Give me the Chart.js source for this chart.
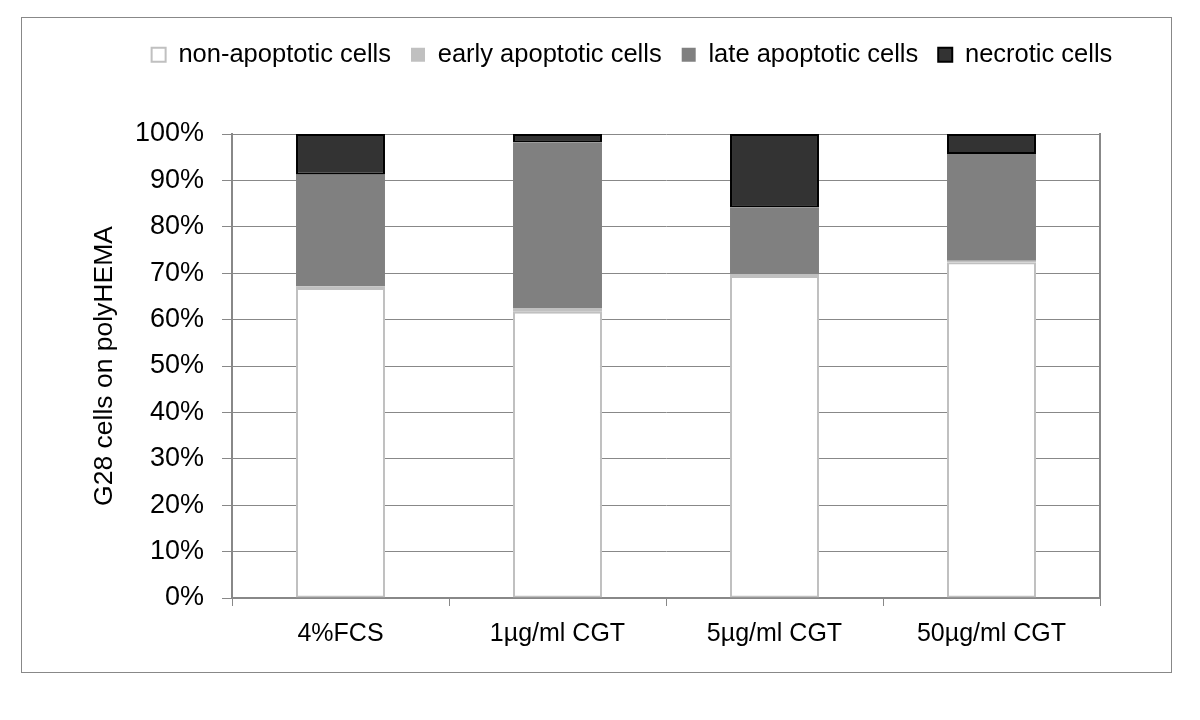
<!DOCTYPE html>
<html lang="en">
<head>
<meta charset="UTF-8">
<title>G28 cells on polyHEMA</title>
<script src="https://cdn.jsdelivr.net/npm/chart.js"></script>
<style>
    body {
        margin: 0;
        background: #fff;
        font-family: "Liberation Sans", Arial, sans-serif;
    }
    #frame {
        position: absolute;
        left: 21px;
        top: 17px;
        width: 1149px;
        height: 654px;
        border: 1px solid #888;
    }
</style>
</head>
<body>

<div id="frame">
    <canvas id="cellChart"></canvas>
</div>

<script>
// values (percent of cells)
const categories = ['4%FCS', '1µg/ml CGT', '5µg/ml CGT', '50µg/ml CGT'];
const seriesNames = ['non-apoptotic cells', 'early apoptotic cells', 'late apoptotic cells', 'necrotic cells'];
const nonApoptotic = [66.8, 61.7, 69.4, 72.3];
const earlyApoptotic = [0.4, 0.8, 0.3, 0.4];
const lateApoptotic = [24.0, 35.7, 14.5, 23.0];
const necrotic = [8.8, 1.8, 15.8, 4.3];
const yTickValues = [0, 10, 20, 30, 40, 50, 60, 70, 80, 90, 100];

Chart.defaults.font.family = '"Liberation Sans", Arial, sans-serif';
Chart.defaults.color = '#000';

// push the plot area down below the legend
const legendSpacer = {
    id: 'legendSpacer',
    afterInit(chart) {
        const fit = chart.legend.fit;
        chart.legend.fit = function () {
            fit.call(this);
            this.height = 112;
        };
    }
};

const ctx = document.getElementById('cellChart').getContext('2d');
const cellChart = new Chart(ctx, {
    type: 'bar',
    data: {
        labels: categories,
        datasets: [{
            label: seriesNames[0],
            data: nonApoptotic,
            backgroundColor: '#ffffff',
            borderColor: '#c0c0c0',
            borderWidth: 2,
            borderSkipped: false
        }, {
            label: seriesNames[1],
            data: earlyApoptotic,
            backgroundColor: '#c0c0c0',
            borderColor: '#c0c0c0',
            borderWidth: 0
        }, {
            label: seriesNames[2],
            data: lateApoptotic,
            backgroundColor: '#808080',
            borderColor: '#808080',
            borderWidth: 0
        }, {
            label: seriesNames[3],
            data: necrotic,
            backgroundColor: '#333333',
            borderColor: '#000000',
            borderWidth: 2,
            borderSkipped: false
        }]
    },
    options: {
        responsive: true,
        maintainAspectRatio: false,
        animation: false,
        layout: {
            padding: { left: 71, right: 0, top: 4, bottom: 0 }
        },
        datasets: {
            bar: { categoryPercentage: 1, barPercentage: 0.41 }
        },
        plugins: {
            tooltip: { enabled: false },
            legend: {
                position: 'top',
                align: 'center',
                labels: {
                    boxWidth: 14,
                    boxHeight: 14,
                    padding: 20,
                    color: '#000',
                    font: { size: 25.5 }
                }
            }
        },
        scales: {
            x: {
                stacked: true,
                grid: {
                    drawOnChartArea: false,
                    drawTicks: true,
                    tickLength: 8,
                    color: '#888'
                },
                border: { display: true, color: '#888', width: 2 },
                ticks: {
                    padding: 13,
                    color: '#000',
                    font: { size: 25 }
                },
                afterFit: scale => { scale.height = 74; }
            },
            y: {
                stacked: true,
                min: 0,
                max: 100,
                afterBuildTicks: axis => {
                    axis.ticks = yTickValues.map(v => ({ value: v }));
                },
                grid: {
                    color: '#888',
                    lineWidth: 1,
                    drawTicks: true,
                    tickLength: 10
                },
                border: { display: true, color: '#888', width: 2 },
                ticks: {
                    padding: 18,
                    color: '#000',
                    font: { size: 27 },
                    callback: value => value + '%'
                },
                title: {
                    display: true,
                    text: 'G28 cells on polyHEMA',
                    color: '#000',
                    font: { size: 26.5 },
                    padding: { top: -4, bottom: 0 }
                },
                afterFit: scale => { scale.width = 139; }
            },
            // right-hand frame line of the plot area
            y2: {
                position: 'right',
                min: 0,
                max: 100,
                grid: { display: false },
                ticks: { display: false },
                border: { display: true, color: '#888', width: 2 },
                afterFit: scale => { scale.width = 71; }
            }
        }
    },
    plugins: [legendSpacer]
});
</script>

</body>
</html>
